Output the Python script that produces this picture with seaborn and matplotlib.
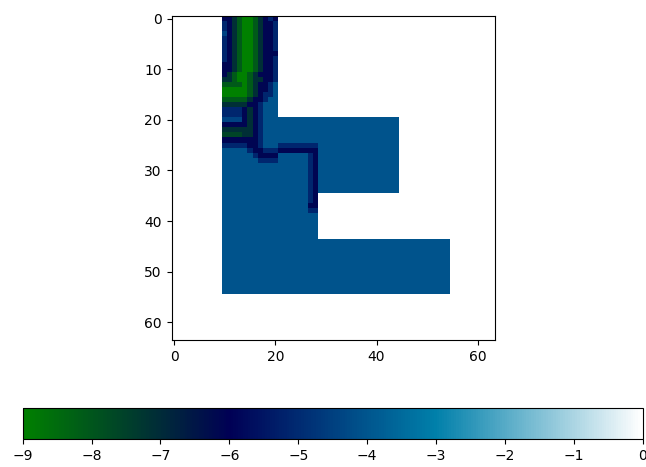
import numpy as np
import matplotlib
matplotlib.use("Agg")
import matplotlib.pyplot as plt
import seaborn as sns

# value levels used in the raster (colour-scale values)
LEVELS = {"G": -9.0, "g": -8.1, "h": -7.6, "k": -7.1, "n": -6.1, "b": -5.1,
          "l": -4.4, "o": -4.05}
GRID_SIZE = 64
COL_OFFSET = 10          # first column described by ROWS
X_TICKS = [0, 20, 40, 60]
Y_TICKS = [0, 10, 20, 30, 40, 50, 60]
CBAR_TICKS = [-9, -8, -7, -6, -5, -4, -3, -2, -1, 0]

# raster rows (columns 10..54), '.' = no data
ROWS = [
    "nnkgGGgknbn" + "." * 34,
    "bnkgGGgknnb" + "." * 34,
    "bnkgGGgknnb" + "." * 34,
    "lnkgGGgknnb" + "." * 34,
    "bnkgGGgknnb" + "." * 34,
    "bnkgGGgknnb" + "." * 34,
    "bnkgGGgknnb" + "." * 34,
    "bnkgGGgknnn" + "." * 34,
    "bnkgGGgknnb" + "." * 34,
    "nnkgGGgknnb" + "." * 34,
    "nnkgGGgknnb" + "." * 34,
    "nkgGGgknnnb" + "." * 34,
    "kkgGGgkknnb" + "." * 34,
    "ggggGgknnbo" + "." * 34,
    "GGGGGgknnbo" + "." * 34,
    "GGGGGgknbbo" + "." * 34,
    "gggggknnboo" + "." * 34,
    "kkkkknnbooo" + "." * 34,
    "bbbbnknbooo" + "." * 34,
    "bbbbnknbooo" + "." * 34,
    "llllnknbooo" + "o" * 24 + "." * 10,
    "nnnnnknbooo" + "o" * 24 + "." * 10,
    "kkkkkknbooo" + "o" * 24 + "." * 10,
    "hhhhkknbooo" + "o" * 24 + "." * 10,
    "nnnnnnnbooo" + "o" * 24 + "." * 10,
    "bbbbbnnbooo" + "b" * 8 + "o" * 16 + "." * 10,
    "o" * 5 + "bnn" + "bbb" + "n" * 8 + "o" * 16 + "." * 10,
    "o" * 6 + "b" + "nnnn" + "o" * 6 + "b" + "n" + "o" * 16 + "." * 10,
    "o" * 7 + "bbbb" + "o" * 6 + "bn" + "o" * 16 + "." * 10,
    "o" * 17 + "bn" + "o" * 16 + "." * 10,
    "o" * 17 + "bn" + "o" * 16 + "." * 10,
    "o" * 17 + "bn" + "o" * 16 + "." * 10,
    "o" * 17 + "bn" + "o" * 16 + "." * 10,
    "o" * 17 + "bn" + "o" * 16 + "." * 10,
    "o" * 17 + "bn" + "o" * 16 + "." * 10,
    "o" * 17 + "bn" + "." * 26,
    "o" * 17 + "bn" + "." * 26,
    "o" * 17 + "nn" + "." * 26,
    "o" * 17 + "bb" + "." * 26,
    "o" * 19 + "." * 26,
    "o" * 19 + "." * 26,
    "o" * 19 + "." * 26,
    "o" * 19 + "." * 26,
    "o" * 19 + "." * 26,
] + ["o" * 45] * 11 + ["." * 45] * 9

grid = np.full((GRID_SIZE, GRID_SIZE), np.nan)
for r, row in enumerate(ROWS):
    for j, ch in enumerate(row):
        if ch in LEVELS:
            grid[r, COL_OFFSET + j] = LEVELS[ch]

fig = plt.figure(figsize=(6.46, 4.67), dpi=100)
ax = fig.add_axes([0.2655, 0.2720, 0.5015, 0.6938])
cax = fig.add_axes([0.0351, 0.0593, 0.9598, 0.0664])

cmap = sns.color_palette("ocean", as_cmap=True)
sns.heatmap(grid, ax=ax, cbar_ax=cax, cmap=cmap, vmin=-9, vmax=0,
            xticklabels=False, yticklabels=False,
            cbar_kws={"orientation": "horizontal", "ticks": CBAR_TICKS})

ax.set_xlim(0, GRID_SIZE)
ax.set_ylim(GRID_SIZE, 0)
ax.set_xticks([t + 0.5 for t in X_TICKS])
ax.set_xticklabels([str(t) for t in X_TICKS], rotation=0)
ax.set_yticks([t + 0.5 for t in Y_TICKS])
ax.set_yticklabels([str(t) for t in Y_TICKS], rotation=0)
ax.tick_params(length=3.5, width=0.8, direction="out", labelsize=10)
for sp in ax.spines.values():
    sp.set_visible(True)
    sp.set_linewidth(0.8)
    sp.set_color("black")

cb = ax.collections[0].colorbar
cb.outline.set_linewidth(0.8)
cb.outline.set_edgecolor("black")
cb.ax.tick_params(length=3.5, width=0.8, labelsize=10)

fig.savefig("out.png", dpi=100)
